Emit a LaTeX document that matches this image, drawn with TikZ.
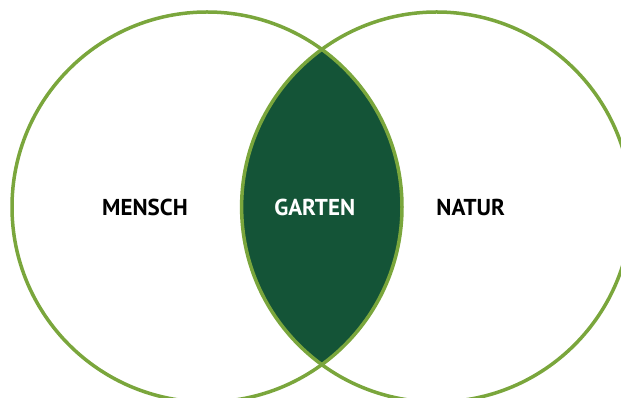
\documentclass[tikz,border=0pt]{standalone}
\usepackage{fontspec}
\setmainfont{PT Sans}
\definecolor{rand}{HTML}{7AA63C}
\definecolor{kern}{HTML}{145437}
\begin{document}
\begin{tikzpicture}[x=1pt, y=1pt, line join=round, line cap=round, font=\bfseries\fontsize{23}{23}\selectfont]
	\def\r{195} \def\xa{207} \def\xb{436.6} \def\ym{191} % Kreise
	\useasboundingbox (0,0) rectangle (621,398);
	\begin{scope}
		\clip (\xa,\ym) circle (\r);
		\fill[kern] (\xb,\ym) circle (\r);
	\end{scope}
	\draw[rand, line width=3.5] (\xa,\ym) circle (\r);
	\draw[rand, line width=3.5] (\xb,\ym) circle (\r);
	\node (mensch) at (145,\ym) {MENSCH};
	\node[white] (garten) at (314.7,\ym) {GARTEN};
	\node (natur) at (470.7,\ym) {NATUR};
\end{tikzpicture}
\end{document}
